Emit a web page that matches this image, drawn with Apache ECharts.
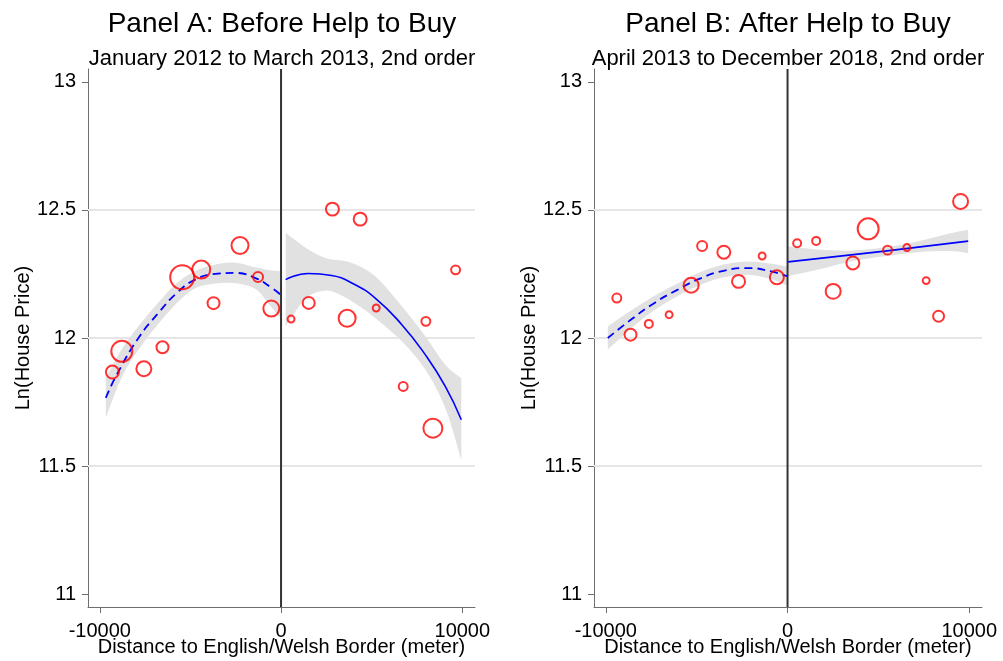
<!DOCTYPE html>
<html><head><meta charset="utf-8">
<script src="https://cdn.jsdelivr.net/npm/echarts@6/dist/echarts.min.js"></script>
<style>html,body{margin:0;padding:0;background:#fff}#c{width:1003px;height:661px}</style>
</head><body><div id="c"></div>
<script>
// ---------- text ----------
const panelTitles = ['Panel A: Before Help to Buy', 'Panel B: After Help to Buy'];
const panelSubtitles = ['January 2012 to March 2013, 2nd order', 'April 2013 to December 2018, 2nd order'];
const xAxisTitle = 'Distance to English/Welsh Border (meter)';
const yAxisTitle = 'Ln(House Price)';

// ---------- axes ----------
const xTickValues = [-10000, 0, 10000];
const yTickValues = [11, 11.5, 12, 12.5, 13];
const yGridValues = [11.5, 12, 12.5];
const xRange = [-10650, 10700];
const yRange = [10.95, 13.05];

// ---------- Panel A (before) ----------
const aBinX = [-9304, -8785, -7569, -6541, -5453, -4403, -3724, -2265, -1271, -536,
               552, 1525, 2834, 3646, 4365, 5249, 6740, 7989, 8376, 9630];
const aBinY = [11.867, 11.948, 11.880, 11.964, 12.237, 12.267, 12.136, 12.361, 12.238, 12.115,
               12.074, 12.137, 12.503, 12.077, 12.464, 12.117, 11.811, 12.065, 11.648, 12.266];
const aBinN = [42, 110, 56, 36, 144, 81, 36, 72, 25, 64,
               12, 36, 42, 72, 42, 12, 20, 20, 90, 20];

const aLeftFitX = [-9669, -9061, -7867, -6762, -5746, -4735, -3630, -2525, -1420, -497, -40];
const aLeftFitY = [11.766, 11.857, 12.0, 12.098, 12.176, 12.228, 12.25, 12.254, 12.234, 12.195, 12.17];
const aLeftBandX = [-9669, -8800, -7867, -6762, -5746, -4735, -3630, -2525, -1420, -700, -40];
const aLeftBandHi = [11.844, 11.955, 12.046, 12.14, 12.215, 12.262, 12.287, 12.294, 12.276, 12.265, 12.26];
const aLeftBandLo = [11.688, 11.845, 11.954, 12.056, 12.137, 12.194, 12.213, 12.214, 12.192, 12.135, 12.08];

const aRightFitX = [254, 1508, 2796, 3901, 5193, 6663, 7956, 9061, 9945];
const aRightFitY = [12.228, 12.252, 12.244, 12.215, 12.156, 12.052, 11.935, 11.811, 11.681];
const aRightBandX = [254, 1000, 1508, 2200, 2796, 3901, 5193, 6663, 7956, 9061, 9945];
const aRightBandHi = [12.41, 12.371, 12.345, 12.319, 12.306, 12.293, 12.241, 12.124, 12.007, 11.896, 11.844];
const aRightBandLo = [12.046, 12.124, 12.163, 12.182, 12.182, 12.143, 12.078, 11.987, 11.877, 11.727, 11.525];

// ---------- Panel B (after) ----------
const bBinX = [-9394, -8640, -7633, -6516, -5306, -4700, -3506, -2697, -1398, -589,
               528, 1574, 2510, 3594, 4436, 5504, 6566, 7628, 8310, 9521];
const bBinY = [12.156, 12.013, 12.055, 12.091, 12.206, 12.359, 12.335, 12.221, 12.320, 12.237,
               12.370, 12.379, 12.182, 12.293, 12.426, 12.343, 12.353, 12.224, 12.085, 12.533];
const bBinN = [20, 36, 16, 12, 56, 25, 42, 42, 12, 49,
               16, 16, 56, 42, 110, 20, 12, 12, 30, 56];

const bLeftFitX = [-9890, -8608, -7320, -6037, -4755, -3467, -2185, -903, 0];
const bLeftFitY = [12.0, 12.072, 12.137, 12.189, 12.234, 12.263, 12.273, 12.26, 12.241];
const bLeftBandX = [-9890, -8608, -7320, -6037, -4755, -3467, -2185, -903, 0];
const bLeftBandHi = [12.045, 12.107, 12.165, 12.214, 12.259, 12.288, 12.299, 12.29, 12.278];
const bLeftBandLo = [11.955, 12.037, 12.109, 12.164, 12.209, 12.238, 12.247, 12.23, 12.204];

const bRightFitX = [33, 5355, 9940];
const bRightFitY = [12.297, 12.339, 12.378];
const bRightBandX = [33, 1684, 3522, 5355, 7188, 9026, 9940];
const bRightBandHi = [12.358, 12.345, 12.341, 12.354, 12.378, 12.41, 12.423];
const bRightBandLo = [12.241, 12.267, 12.30, 12.319, 12.335, 12.339, 12.332];

// ---------- build ----------
const FONT = '"Liberation Sans", Arial, Helvetica, sans-serif';
const RED = '#ff0000', BLUE = '#0000ff', BAND = '#e1e1e1', GRIDC = '#e6e6e6', AXC = '#6e6e6e';
const grids = [
  {left: 88, top: 69, width: 387, height: 538, containLabel: false, outerBoundsMode: 'none'},
  {left: 594, top: 69, width: 388, height: 538, containLabel: false, outerBoundsMode: 'none'}
];
const centers = [282, 788];

const panels = [
  {binX: aBinX, binY: aBinY, binN: aBinN,
   lf: [aLeftFitX, aLeftFitY], lb: [aLeftBandX, aLeftBandLo, aLeftBandHi],
   rf: [aRightFitX, aRightFitY], rb: [aRightBandX, aRightBandLo, aRightBandHi]},
  {binX: bBinX, binY: bBinY, binN: bBinN,
   lf: [bLeftFitX, bLeftFitY], lb: [bLeftBandX, bLeftBandLo, bLeftBandHi],
   rf: [bRightFitX, bRightFitY], rb: [bRightBandX, bRightBandLo, bRightBandHi]}
];

const zip = (xs, ys) => xs.map((x, i) => [x, ys[i]]);

function smoothPath(pts) {
  let d = 'M' + pts[0][0] + ' ' + pts[0][1];
  for (let i = 0; i < pts.length - 1; i++) {
    const p0 = pts[Math.max(0, i - 1)], p1 = pts[i], p2 = pts[i + 1], p3 = pts[Math.min(pts.length - 1, i + 2)];
    const c1 = [p1[0] + (p2[0] - p0[0]) / 6, p1[1] + (p2[1] - p0[1]) / 6];
    const c2 = [p2[0] - (p3[0] - p1[0]) / 6, p2[1] - (p3[1] - p1[1]) / 6];
    d += ' C' + c1[0] + ' ' + c1[1] + ' ' + c2[0] + ' ' + c2[1] + ' ' + p2[0] + ' ' + p2[1];
  }
  return d;
}

function bandSeries(k, b) {
  const xs = b[0], lo = b[1], hi = b[2];
  return {
    type: 'custom', xAxisIndex: k, yAxisIndex: k, silent: true, z: 2, animation: false,
    data: xs.map((x, i) => [x, lo[i], hi[i]]),
    renderItem: (params, api) => {
      if (params.dataIndex !== 0) return null;
      const up = xs.map((x, i) => api.coord([x, hi[i]]));
      const dn = xs.map((x, i) => api.coord([x, lo[i]])).reverse();
      let d = smoothPath(up);
      const dn2 = smoothPath(dn).replace(/^M/, 'L');
      d += ' ' + dn2 + ' Z';
      return {type: 'path', shape: {pathData: d}, style: {fill: BAND, stroke: null}};
    }
  };
}

const series = [];
panels.forEach((p, k) => {
  const ax = {xAxisIndex: k, yAxisIndex: k, silent: true, animation: false};
  yGridValues.forEach(v => {
    series.push(Object.assign({type: 'line', symbol: 'none', z: 1,
      data: [[xRange[0], v], [xRange[1], v]],
      lineStyle: {color: GRIDC, width: 2}}, ax));
  });
  series.push(bandSeries(k, p.lb));
  series.push(bandSeries(k, p.rb));
  series.push(Object.assign({type: 'line', symbol: 'none', z: 3,
    data: [[0, yRange[0]], [0, yRange[1]]],
    lineStyle: {color: '#333333', width: 2}}, ax));
  series.push(Object.assign({type: 'line', symbol: 'none', smooth: true, z: 4,
    data: zip(p.lf[0], p.lf[1]), lineStyle: {color: BLUE, width: 1.8, type: [8, 5]}}, ax));
  series.push(Object.assign({type: 'line', symbol: 'none', smooth: true, z: 4,
    data: zip(p.rf[0], p.rf[1]), lineStyle: {color: BLUE, width: 1.6}}, ax));
  series.push(Object.assign({type: 'scatter', z: 5,
    data: p.binX.map((x, i) => [x, p.binY[i], p.binN[i]]),
    symbol: 'circle',
    symbolSize: v => 2 * Math.sqrt(v[2]),
    itemStyle: {color: 'rgba(0,0,0,0)', borderColor: RED, borderWidth: 2}}, ax));
});

const titles = [];
[0, 1].forEach(k => {
  titles.push({text: panelTitles[k], left: centers[k], top: 10, textAlign: 'center', padding: 0,
    textStyle: {fontFamily: FONT, fontSize: 28, fontWeight: 'normal', color: '#000'}});
  titles.push({text: panelSubtitles[k], left: centers[k], top: 48, textAlign: 'center', padding: 0,
    textStyle: {fontFamily: FONT, fontSize: 22, fontWeight: 'normal', color: '#000'}});
});

const option = {
  backgroundColor: '#ffffff',
  animation: false,
  title: titles,
  grid: grids,
  xAxis: [0, 1].map(k => ({
    type: 'value', gridIndex: k, min: xRange[0], max: xRange[1],
    name: xAxisTitle, nameLocation: 'middle', nameGap: 30, nameMoveOverlap: false,
    nameTextStyle: {fontFamily: FONT, fontSize: 20, color: '#000'},
    axisLine: {show: true, onZero: false, lineStyle: {color: AXC, width: 1}},
    axisTick: {show: true, length: 6, customValues: xTickValues, lineStyle: {color: AXC}},
    axisLabel: {customValues: xTickValues, margin: 14, fontFamily: FONT, fontSize: 20, color: '#000',
      formatter: v => String(v)},
    splitLine: {show: false}
  })),
  yAxis: [0, 1].map(k => ({
    type: 'value', gridIndex: k, min: yRange[0], max: yRange[1],
    name: yAxisTitle, nameLocation: 'middle', nameGap: 50,
    nameTextStyle: {fontFamily: FONT, fontSize: 20, color: '#000'},
    axisLine: {show: true, onZero: false, lineStyle: {color: AXC, width: 1}},
    axisTick: {show: true, length: 6, customValues: yTickValues, lineStyle: {color: AXC}},
    axisLabel: {customValues: yTickValues, margin: 12, fontFamily: FONT, fontSize: 20, color: '#000',
      formatter: v => String(v)},
    splitLine: {show: false}
  })),
  series: series
};

const chart = echarts.init(document.getElementById('c'), null, {renderer: 'canvas'});
chart.setOption(option);
</script>
</body></html>
